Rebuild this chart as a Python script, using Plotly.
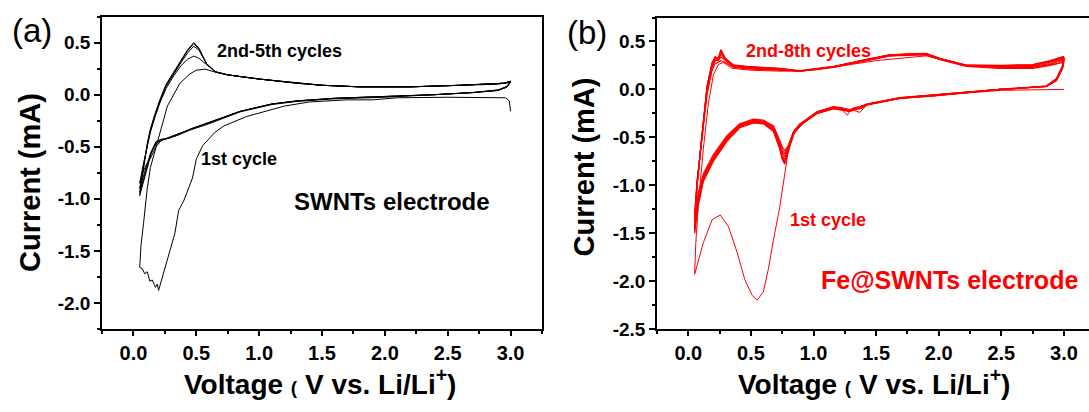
import plotly.graph_objects as go

W, H = 1089, 412

# ---------------- Panel (a): SWNTs electrode ----------------
# 1st cycle
a1_cath_v = [3.0, 2.99, 2.96, 2.5, 2.1, 1.9, 1.7, 1.4, 1.2, 1.0, 0.9, 0.8, 0.72, 0.65, 0.55, 0.5, 0.47,
             0.4, 0.36, 0.33, 0.28, 0.23, 0.21, 0.2, 0.19, 0.175, 0.15, 0.13, 0.11, 0.09, 0.07, 0.05]
a1_cath_i = [-0.16, -0.06, -0.03, -0.025, -0.03, -0.05, -0.05, -0.07, -0.11, -0.18, -0.21, -0.26, -0.3,
             -0.36, -0.49, -0.62, -0.8, -1.02, -1.11, -1.33, -1.55, -1.77, -1.86, -1.88, -1.82, -1.85,
             -1.78, -1.79, -1.7, -1.72, -1.67, -1.66]
a1_an_v = [0.05, 0.06, 0.08, 0.11, 0.135, 0.19, 0.27, 0.37, 0.45, 0.5, 0.57, 0.64, 0.75, 1.0, 1.3, 1.5,
           1.8, 2.2, 2.6, 2.9, 3.0]
a1_an_i = [-1.66, -1.45, -1.24, -0.9, -0.7, -0.47, -0.11, 0.11, 0.2, 0.235, 0.245, 0.22, 0.19, 0.15,
           0.11, 0.09, 0.075, 0.075, 0.09, 0.1, 0.12]

# 2nd-5th cycles (shared voltage grids)
a_cath_v = [3.0, 2.97, 2.9, 2.7, 2.4, 2.0, 1.6, 1.3, 1.1, 0.85, 0.6, 0.45, 0.35, 0.28, 0.22, 0.18,
            0.14, 0.1, 0.07, 0.05]
a2_cath_i = [0.12, 0.07, 0.04, 0.02, 0.0, -0.02, -0.035, -0.06, -0.09, -0.16, -0.27, -0.33, -0.38,
             -0.41, -0.44, -0.5, -0.6, -0.68, -0.76, -0.85]
a3_cath_i = [0.12, 0.075, 0.04, 0.02, 0.0, -0.02, -0.035, -0.06, -0.09, -0.16, -0.27, -0.33, -0.38,
             -0.42, -0.43, -0.45, -0.55, -0.7, -0.82, -0.9]
a4_cath_i = [0.13, 0.075, 0.045, 0.02, 0.0, -0.02, -0.035, -0.06, -0.09, -0.16, -0.27, -0.33, -0.39,
             -0.42, -0.43, -0.46, -0.56, -0.73, -0.86, -0.94]
a5_cath_i = [0.13, 0.08, 0.045, 0.02, 0.0, -0.025, -0.04, -0.065, -0.095, -0.165, -0.28, -0.34, -0.39,
             -0.42, -0.44, -0.47, -0.57, -0.75, -0.88, -0.97]

a_an_v = [0.05, 0.06, 0.08, 0.11, 0.135, 0.17, 0.21, 0.26, 0.32, 0.38, 0.43, 0.48, 0.52, 0.58, 0.65,
          0.75, 1.0, 1.3, 1.5, 1.8, 2.2, 2.6, 2.8, 2.95, 3.0]
a2_an_i = [-0.85, -0.78, -0.66, -0.5, -0.36, -0.22, -0.08, 0.06, 0.18, 0.28, 0.34, 0.37, 0.35, 0.29,
           0.22, 0.19, 0.15, 0.11, 0.09, 0.075, 0.075, 0.09, 0.1, 0.11, 0.12]
a3_an_i = [-0.9, -0.82, -0.68, -0.49, -0.35, -0.21, -0.07, 0.08, 0.2, 0.31, 0.4, 0.465, 0.43, 0.3,
           0.22, 0.19, 0.15, 0.11, 0.09, 0.075, 0.075, 0.09, 0.1, 0.11, 0.125]
a4_an_i = [-0.94, -0.85, -0.7, -0.48, -0.34, -0.2, -0.06, 0.09, 0.21, 0.33, 0.42, 0.49, 0.44, 0.3,
           0.22, 0.19, 0.15, 0.11, 0.09, 0.075, 0.075, 0.09, 0.1, 0.11, 0.13]
a5_an_i = [-0.97, -0.87, -0.71, -0.47, -0.33, -0.19, -0.05, 0.1, 0.22, 0.34, 0.43, 0.5, 0.45, 0.3,
           0.22, 0.19, 0.15, 0.11, 0.09, 0.075, 0.075, 0.09, 0.1, 0.11, 0.13]

# ---------------- Panel (b): Fe@SWNTs electrode ----------------
b1_cath_v = [3.0, 2.5, 2.0, 1.7, 1.43, 1.37, 1.3, 1.27, 1.22, 1.16, 1.03, 0.95, 0.85, 0.8, 0.78, 0.76,
             0.73, 0.68, 0.64, 0.6, 0.55, 0.51, 0.45, 0.39, 0.32, 0.255, 0.19, 0.12, 0.05]
b1_cath_i = [0.0, -0.01, -0.06, -0.09, -0.155, -0.24, -0.21, -0.27, -0.2, -0.19, -0.24, -0.31, -0.45,
             -0.62, -0.8, -0.99, -1.23, -1.57, -1.87, -2.11, -2.2, -2.15, -1.98, -1.7, -1.43, -1.31,
             -1.36, -1.6, -1.93]
b1_an_v = [0.05, 0.06, 0.08, 0.12, 0.16, 0.2, 0.24, 0.28, 0.35, 0.5, 0.75, 1.0, 1.5, 1.9, 2.2, 2.5,
           2.8, 2.95, 3.0]
b1_an_i = [-1.93, -1.6, -1.2, -0.62, -0.15, 0.15, 0.26, 0.28, 0.22, 0.2, 0.19, 0.2, 0.3, 0.35, 0.25,
           0.22, 0.24, 0.27, 0.3]

b_cath_v = [3.0, 2.99, 2.94, 2.86, 2.49, 1.96, 1.69, 1.43, 1.37, 1.33, 1.29, 1.22, 1.16, 1.03, 0.95,
            0.89, 0.84, 0.8, 0.77, 0.75, 0.73, 0.68, 0.6, 0.52, 0.41, 0.31, 0.2, 0.12, 0.08, 0.05]
b2_cath_i = [0.3, 0.22, 0.09, 0.03, 0.0, -0.06, -0.085, -0.15, -0.18, -0.19, -0.21, -0.19, -0.18,
             -0.23, -0.3, -0.36, -0.44, -0.58, -0.64, -0.6, -0.53, -0.38, -0.32, -0.31, -0.36, -0.48,
             -0.68, -0.88, -1.08, -1.3]
b3_cath_i = [0.31, 0.23, 0.1, 0.03, 0.0, -0.062, -0.087, -0.152, -0.185, -0.195, -0.215, -0.195, -0.185,
             -0.235, -0.305, -0.365, -0.445, -0.59, -0.67, -0.63, -0.55, -0.39, -0.33, -0.32, -0.37,
             -0.495, -0.7, -0.9, -1.11, -1.35]
b4_cath_i = [0.32, 0.235, 0.1, 0.03, 0.0, -0.064, -0.089, -0.155, -0.19, -0.2, -0.22, -0.2, -0.19,
             -0.24, -0.31, -0.37, -0.45, -0.6, -0.7, -0.66, -0.57, -0.4, -0.335, -0.325, -0.375, -0.5,
             -0.71, -0.91, -1.13, -1.38]
b5_cath_i = [0.33, 0.24, 0.1, 0.03, 0.0, -0.065, -0.09, -0.156, -0.19, -0.2, -0.22, -0.2, -0.19,
             -0.24, -0.31, -0.37, -0.45, -0.61, -0.73, -0.69, -0.59, -0.41, -0.34, -0.33, -0.38, -0.51,
             -0.72, -0.92, -1.15, -1.41]
b6_cath_i = [0.33, 0.245, 0.11, 0.035, 0.0, -0.066, -0.092, -0.158, -0.195, -0.205, -0.225, -0.205,
             -0.195, -0.245, -0.315, -0.375, -0.455, -0.62, -0.75, -0.71, -0.6, -0.42, -0.35, -0.34,
             -0.39, -0.52, -0.73, -0.94, -1.17, -1.44]
b7_cath_i = [0.34, 0.25, 0.11, 0.035, 0.0, -0.067, -0.093, -0.16, -0.2, -0.21, -0.23, -0.21, -0.2,
             -0.25, -0.32, -0.38, -0.46, -0.63, -0.77, -0.72, -0.61, -0.43, -0.355, -0.345, -0.395,
             -0.53, -0.74, -0.95, -1.19, -1.47]
b8_cath_i = [0.34, 0.25, 0.11, 0.035, 0.0, -0.068, -0.094, -0.162, -0.2, -0.21, -0.23, -0.21, -0.2,
             -0.25, -0.32, -0.385, -0.465, -0.64, -0.78, -0.73, -0.62, -0.44, -0.36, -0.35, -0.4,
             -0.54, -0.75, -0.96, -1.21, -1.5]

b_an_v = [0.05, 0.07, 0.11, 0.15, 0.19, 0.215, 0.24, 0.26, 0.295, 0.36, 0.47, 0.73, 0.89, 1.16, 1.43,
          1.58, 1.61, 1.75, 1.9, 2.01, 2.22, 2.49, 2.75, 2.89, 2.99, 3.0]
b2_an_i = [-1.3, -0.95, -0.5, -0.05, 0.2, 0.27, 0.28, 0.3, 0.28, 0.23, 0.215, 0.2, 0.19, 0.23, 0.3,
           0.34, 0.35, 0.355, 0.36, 0.31, 0.24, 0.22, 0.22, 0.25, 0.28, 0.3]
b3_an_i = [-1.35, -0.97, -0.49, -0.02, 0.23, 0.3, 0.3, 0.34, 0.3, 0.24, 0.22, 0.205, 0.19, 0.235, 0.305,
           0.34, 0.35, 0.36, 0.365, 0.315, 0.245, 0.23, 0.23, 0.26, 0.3, 0.31]
b4_an_i = [-1.38, -0.98, -0.48, 0.0, 0.25, 0.32, 0.31, 0.37, 0.31, 0.245, 0.225, 0.21, 0.19, 0.235,
           0.31, 0.345, 0.355, 0.36, 0.37, 0.32, 0.25, 0.235, 0.24, 0.27, 0.31, 0.32]
b5_an_i = [-1.41, -0.99, -0.48, 0.02, 0.26, 0.33, 0.32, 0.39, 0.32, 0.25, 0.23, 0.215, 0.19, 0.235,
           0.31, 0.345, 0.36, 0.365, 0.37, 0.32, 0.25, 0.24, 0.25, 0.285, 0.32, 0.33]
b6_an_i = [-1.44, -1.0, -0.47, 0.03, 0.27, 0.335, 0.32, 0.4, 0.32, 0.25, 0.235, 0.217, 0.19, 0.235,
           0.31, 0.35, 0.36, 0.365, 0.37, 0.32, 0.25, 0.245, 0.25, 0.29, 0.33, 0.33]
b7_an_i = [-1.47, -1.0, -0.47, 0.03, 0.27, 0.337, 0.32, 0.41, 0.32, 0.25, 0.235, 0.217, 0.19, 0.235,
           0.31, 0.35, 0.36, 0.365, 0.37, 0.32, 0.25, 0.245, 0.255, 0.295, 0.34, 0.34]
b8_an_i = [-1.5, -1.01, -0.46, 0.04, 0.28, 0.34, 0.325, 0.415, 0.325, 0.255, 0.24, 0.22, 0.195, 0.24,
           0.315, 0.35, 0.36, 0.37, 0.375, 0.325, 0.255, 0.25, 0.26, 0.3, 0.345, 0.345]

# tick labels
x_tickvals = [0.0, 0.5, 1.0, 1.5, 2.0, 2.5, 3.0]
x_ticktext = ["0.0", "0.5", "1.0", "1.5", "2.0", "2.5", "3.0"]
ya_tickvals = [0.5, 0.0, -0.5, -1.0, -1.5, -2.0]
ya_ticktext = ["0.5", "0.0", "-0.5", "-1.0", "-1.5", "-2.0"]
yb_tickvals = [0.5, 0.0, -0.5, -1.0, -1.5, -2.0, -2.5]
yb_ticktext = ["0.5", "0.0", "-0.5", "-1.0", "-1.5", "-2.0", "-2.5"]

FONT = "Liberation Sans"
RED = "#ff0000"

fig = go.Figure()

def add(x, y, color, xa, ya, w=1.0):
    fig.add_trace(go.Scatter(x=x, y=y, mode="lines", line=dict(color=color, width=w),
                             xaxis=xa, yaxis=ya, showlegend=False, hoverinfo="skip"))

# panel a
add(a1_cath_v, a1_cath_i, "black", "x", "y")
add(a1_an_v, a1_an_i, "black", "x", "y")
for c, an in [(a2_cath_i, a2_an_i), (a3_cath_i, a3_an_i), (a4_cath_i, a4_an_i), (a5_cath_i, a5_an_i)]:
    add(a_cath_v, c, "black", "x", "y")
    add(a_an_v, an, "black", "x", "y")

# panel b
add(b1_cath_v, b1_cath_i, RED, "x2", "y2")
add(b1_an_v, b1_an_i, RED, "x2", "y2")
for c, an in [(b2_cath_i, b2_an_i), (b3_cath_i, b3_an_i), (b4_cath_i, b4_an_i), (b5_cath_i, b5_an_i),
              (b6_cath_i, b6_an_i), (b7_cath_i, b7_an_i), (b8_cath_i, b8_an_i)]:
    add(b_cath_v, c, RED, "x2", "y2", 1.2)
    add(b_an_v, an, RED, "x2", "y2", 1.2)

TICKX = dict(family=FONT, size=20, color="black", weight="bold")
TICKY = dict(family=FONT, size=19, color="black", weight="bold")

fig.update_layout(width=W, height=H, margin=dict(l=0, r=0, t=0, b=0),
                  paper_bgcolor="white", plot_bgcolor="white", showlegend=False)

common = dict(showgrid=False, zeroline=False, showline=True, linecolor="black", linewidth=1.5,
              ticks="outside", tickwidth=1.5, tickcolor="black", tickmode="array")

fig.update_layout(
    xaxis=dict(domain=[102 / W, 542 / W], range=[-0.25, 3.25], anchor="y", mirror=True,
               ticklen=5, tickvals=x_tickvals, ticktext=x_ticktext, **common),
    xaxis2=dict(domain=[657 / W, 1.0], range=[-0.25, 3.2], anchor="y2", mirror=True,
                ticklen=5, tickvals=x_tickvals, ticktext=x_ticktext, **common),
    yaxis=dict(domain=[1 - 338 / H, 1 - 17 / H], range=[-2.25, 0.75], anchor="x", mirror=True,
               ticklen=6, tickvals=ya_tickvals, ticktext=ya_ticktext, **common),
    yaxis2=dict(domain=[1 - 338 / H, 1 - 18 / H], range=[-2.5, 0.75], anchor="x2", mirror=False,
                ticklen=6, tickvals=yb_tickvals, ticktext=yb_ticktext, **common),
)
fig.update_xaxes(tickfont=TICKX,
                 minor=dict(ticks="outside", ticklen=3, tickwidth=1.5, tickcolor="black",
                            dtick=0.25, tick0=0))
fig.update_yaxes(tickfont=TICKY,
                 minor=dict(ticks="outside", ticklen=3, tickwidth=1.5, tickcolor="black",
                            dtick=0.25, tick0=0))


def ann(text, x, y, size, color="black", bold=True, angle=0):
    fig.add_annotation(text=text, x=x / W, y=1 - y / H, xref="paper", yref="paper",
                       showarrow=False, textangle=angle, xanchor="center", yanchor="middle",
                       font=dict(family=FONT, size=size, color=color,
                                 weight="bold" if bold else "normal"))

vt = "Voltage <span style='font-size:19px'>(</span> V vs. Li/Li<sup>+</sup>)"
ann("(a)", 32, 31, 33, bold=False)
ann("(b)", 587, 33, 33, bold=False)
ann("Current (mA)", 30, 188, 29, angle=-90)
ann("Current (mA)", 584, 172, 29, angle=-90)
ann(vt, 320, 392, 28)
ann(vt, 874, 392, 28)
ann("2nd-5th cycles", 279, 52, 18)
ann("1st cycle", 239, 163, 18)
ann("SWNTs electrode", 392, 207, 24)
ann("2nd-8th cycles", 808, 52, 18, RED)
ann("1st cycle", 828, 226, 18, RED)
ann("Fe@SWNTs electrode", 949, 288, 25, RED)

fig.write_html("out.html")
